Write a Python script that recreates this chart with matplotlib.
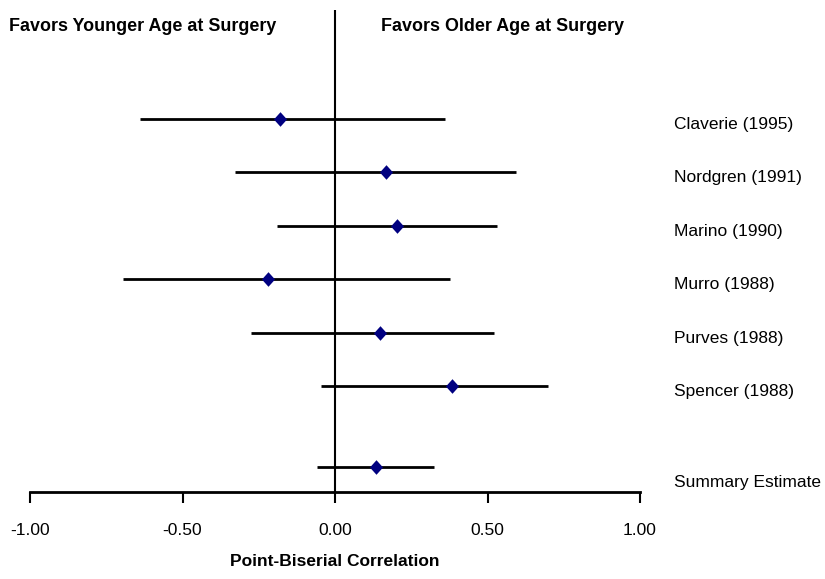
import matplotlib.pyplot as plt
from matplotlib import font_manager

studies = ['Claverie (1995)', 'Nordgren (1991)', 'Marino (1990)', 'Murro (1988)',
           'Purves (1988)', 'Spencer (1988)', 'Summary Estimate']
rows = [1, 2, 3, 4, 5, 6, 7.5]
estimate = [-0.18, 0.167, 0.202, -0.22, 0.147, 0.383, 0.136]
lower = [-0.64, -0.328, -0.19, -0.695, -0.274, -0.047, -0.059]
upper = [0.36, 0.594, 0.53, 0.376, 0.52, 0.697, 0.324]
ticks = [-1.0, -0.5, 0.0, 0.5, 1.0]

names = {f.name for f in font_manager.fontManager.ttflist}
font = 'Liberation Sans Narrow' if 'Liberation Sans Narrow' in names else 'Liberation Sans'
plt.rcParams['font.family'] = [font, 'DejaVu Sans']

fig = plt.figure(figsize=(8.25, 5.79), dpi=100)
ax = fig.add_axes([30 / 825, 87 / 579, 610 / 825, 482 / 579])

diamond = [(-0.45, 0), (0, 0.5), (0.45, 0), (0, -0.5), (-0.45, 0)]
ax.hlines(rows, lower, upper, color='black', linewidth=2)
ax.plot(estimate, rows, linestyle='none', marker=diamond, color='#000080',
        markersize=10.5, markeredgewidth=0)
ax.axvline(0, color='black', linewidth=1.5)

for name, r in zip(studies, rows):
    dy = 0.3 if r == rows[-1] else 0.1
    ax.text(1.11, r + dy, name, fontsize=12.5, va='center', ha='left', clip_on=False)

ax.text(-1.07, -0.72, 'Favors Younger Age at Surgery', fontsize=12.9,
        fontweight='bold', va='center', ha='left')
ax.text(0.15, -0.72, 'Favors Older Age at Surgery', fontsize=12.9,
        fontweight='bold', va='center', ha='left')

ax.set_xlim(-1, 1)
ax.set_ylim(7.97, -1.03)
ax.set_xticks(ticks)
ax.set_xticklabels(['%.2f' % t for t in ticks], fontsize=12.5)
ax.set_yticks([])
ax.tick_params(axis='x', direction='out', length=8, width=1.5, pad=14)
for s in ['top', 'left', 'right']:
    ax.spines[s].set_visible(False)
ax.spines['bottom'].set_linewidth(2)
ax.set_xlabel('Point-Biserial Correlation', fontsize=12.5, fontweight='bold', labelpad=12)

fig.savefig('out.png', dpi=100)
